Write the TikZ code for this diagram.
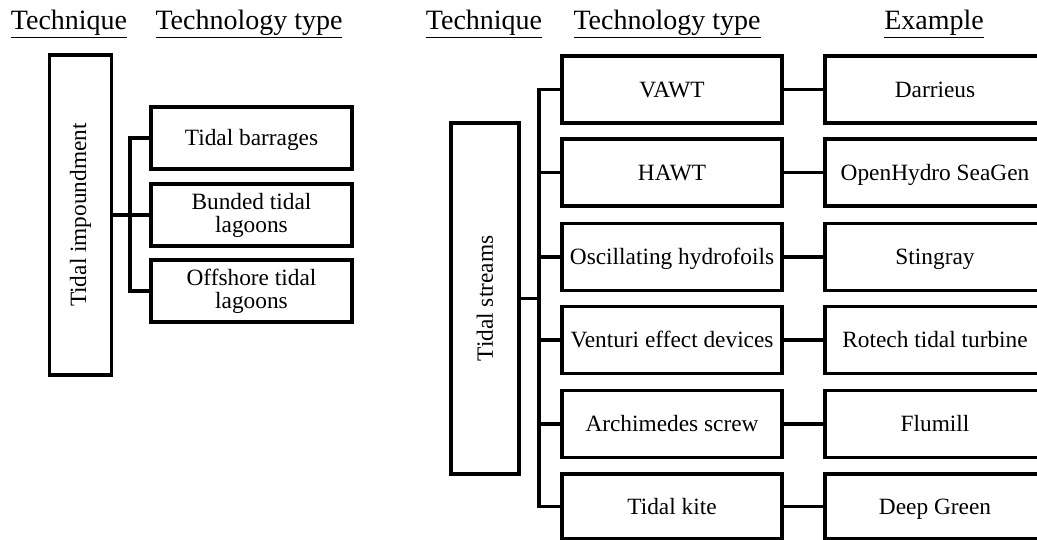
\documentclass[tikz,border=0pt]{standalone}
\usepackage{fontspec}
\setmainfont{Liberation Serif}
\newlength\pxu
\setlength\pxu{0.75pt}
\begin{document}
\begin{tikzpicture}[x=0.75pt,y=-0.75pt,
  boxnode/.style={draw=black,line width=2.5pt,rectangle,inner sep=0pt,align=center,
    font=\fontsize{17.5}{17.3}\selectfont},
  onebox/.style={boxnode,text height=11.6pt,text depth=0pt},
  vbox/.style={boxnode},
  hdr/.style={inner sep=0pt,anchor=base,font=\fontsize{21}{24}\selectfont},
  conn/.style={draw=black,line width=2.5pt,line join=miter}]
\useasboundingbox (0,0) rectangle (1037,539);
\clip (0,0) rectangle (1037,539);
% headers
\node[hdr] (h1) at (69,29) {\underline{Technique}};
\node[hdr] (h2) at (249,29) {\underline{Technology type}};
\node[hdr] (h3) at (484,29) {\underline{Technique}};
\node[hdr] (h4) at (667,29) {\underline{Technology type}};
\node[hdr] (h5) at (934,29) {\underline{Example}};
% left group
\node[vbox,minimum width=62\pxu,minimum height=320\pxu] (imp) at (80.5,215) {};
\node[rotate=90,font=\fontsize{17.5}{17.3}\selectfont] (impt) at (imp.center) {Tidal impoundment};
\node[onebox,minimum width=201\pxu,minimum height=62\pxu] (l1) at (251.5,138) {Tidal barrages};
\node[boxnode,minimum width=201\pxu,minimum height=62\pxu] (l2) at (251.5,215) {Bunded tidal\\lagoons};
\node[boxnode,minimum width=201\pxu,minimum height=62\pxu] (l3) at (251.5,291) {Offshore tidal\\lagoons};
\coordinate (busL) at (130,215);
\draw[conn] (l1.west) -| (busL) |- (l3.west);
\draw[conn] (imp.east) -- (l2.west);
% right group
\node[vbox,minimum width=68\pxu,minimum height=351\pxu] (ts) at (485,298.5) {};
\node[rotate=90,font=\fontsize{17.5}{17.3}\selectfont] (tst) at (ts.center) {Tidal streams};
\foreach \n/\y/\t/\e in {1/89.5/VAWT/Darrieus,2/172.5/HAWT/OpenHydro SeaGen,3/257/Oscillating hydrofoils/Stingray,4/340/Venturi effect devices/Rotech tidal turbine,5/424/Archimedes screw/Flumill}{
  \node[onebox,minimum width=220\pxu,minimum height=67\pxu] (m\n) at (672,\y) {\t};
  \node[onebox,minimum width=220\pxu,minimum height=67\pxu] (e\n) at (935,\y) {\e};
  \draw[conn] (m\n.east) -- (e\n.west);
}
\node[onebox,minimum width=220\pxu,minimum height=65\pxu] (m6) at (672,506.5) {Tidal kite};
\node[onebox,minimum width=220\pxu,minimum height=65\pxu] (e6) at (935,506.5) {Deep Green};
\draw[conn] (m6.east) -- (e6.west);
\coordinate (busR) at (539,298.5);
\draw[conn] (m1.west) -| (busR) |- (m6.west);
\foreach \n in {2,3,4,5}{ \draw[conn] (m\n.west) -- (m\n.west -| busR); }
\draw[conn] (ts.east) -- (busR);
\end{tikzpicture}
\end{document}
